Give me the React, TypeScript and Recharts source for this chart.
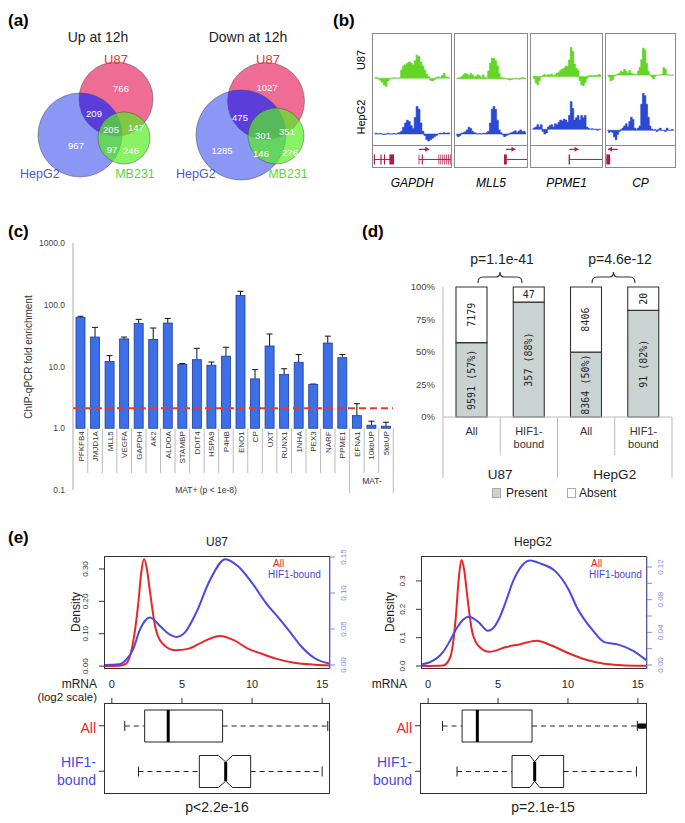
import React from 'react';
import {
  AreaChart,
  Area,
  BarChart,
  Bar,
  ComposedChart,
  LineChart,
  Line,
  ScatterChart,
  Scatter,
  XAxis,
  YAxis,
  LabelList,
  ReferenceArea,
  ReferenceLine,
} from 'recharts';

const FONT = '"Liberation Sans", Arial, sans-serif';
const MONO = '"DejaVu Sans Mono", monospace';
const RED = '#e8262a';
const BLUE = '#4848e4';
const BLUE_AXIS = '#8585f0';
const GENE_RED = '#b3174e';

// (a) Venn counts: U87 only, U87&HepG2, all three, U87&MB231, HepG2 only, HepG2&MB231, MB231 only
const upCounts = [766, 209, 205, 147, 967, 97, 246];
const downCounts = [1027, 475, 301, 351, 1285, 146, 276];

// (b) ChIP-seq tracks, 40 bins per locus
const trackGenes = ['GAPDH', 'MLL5', 'PPME1', 'CP'];
const u87Signal = [
  [0.2, 0.3, -0.3, -0.8, -1.5, -2.5, -3, -1, -0.3, 0, 0.2, 0, 0.1, 0.2, 3, 4.5, 5, 5.5, 6, 5.5, 5, 6.5, 8.5, 8, 6, 4.5, 3, 1.5, 0.5, -0.8, -1, -0.5, 0.3, 0.5, 0.2, 1, 1.8, 0.5, 0.3, 0.2],
  [0, 0.3, 0.5, 0.8, 1.5, 2, 1.8, 1.2, 2, 1.5, 0.8, 1, 1.5, 1.2, 0.5, 1.5, 0.5, 0.3, 3, 6, 8, 8, 7, 5, 2, 0.5, 0.3, 0.2, 0, -0.3, -0.5, -0.3, 0, 0.2, 0, -0.2, 0.3, 0.5, 0.2, 0.3],
  [0, -0.5, -1.5, -2, -1, 0, 0.3, 0.5, 0.2, 0.5, 0.3, 0.6, 0.2, 0.5, 0.8, 1, 1.5, 1.8, 2, 2.5, 2.5, 4, 7, 6, 3, 2, 1.5, -1, -2, -2.2, -1.5, -0.5, 0.2, 0.3, 0.2, 0.3, 0.2, 0.3, 0.5, 0.3],
  [0, -0.5, -1.5, -1.2, -0.3, 0, 0.3, 0.5, 1, 0.8, 1.5, 1, 0.5, 1.2, 0.5, 0.3, 0.2, 0, 1, 2, 4, 7, 6.5, 3, 1, 0, -0.5, -1, -0.3, 0, 0, 0, 0.2, 2, 1.5, 0.2, 0, 0, 0, 0],
];
const hepg2Signal = [
  [0, 0.3, 0, 0.2, 0, -0.2, 0, 0.3, 0, 0, 0.2, 0, 0.3, 0.5, 1, 2.5, 4, 5, 4.5, 3, 2, 6, 10, 9, 4, 1, -0.5, -2, -2.5, -2, -1.5, -1, -0.5, 0, 0.3, 0.2, 0.5, 0.2, 0.4, 0.3],
  [-0.5, -1, -0.5, 0.3, 0.5, 0.8, 1.5, 2.5, 2, 1, 0.5, 0.3, 0, 0.2, 0, 0.3, 0.2, 0.5, 1, 4, 9, 10, 9, 5, 1.5, 0.5, -0.3, -1, -0.5, -0.3, 0.3, 0.5, 0.8, 1.2, 0.5, 1, 1.5, 0.8, 1, 0.5],
  [0, 0.3, 0.5, 1, 0.5, 1, -0.5, -1, -0.8, 0.5, 0.8, 1, 0.5, 1.2, 1, 1.5, 2, 1.8, 2.2, 2, 1.5, 3, 6, 4.5, 2, 2.5, 3, 2, 3, 2.5, 3, 0.5, 0.2, 0, 0.1, 0, 0, -0.2, 0, 0],
  [0, -0.5, -0.3, -0.5, -1.5, -2.2, -1, -0.3, 0.2, 0.5, 1, 1.5, 0.8, 2, 3, 2.5, 0.5, 0.2, 0.5, 1, 6, 8.5, 8, 6, 3, 1, 0.3, 0, 0.2, -0.3, 0.2, 0.5, 0, 0, -0.3, 0.5, 0, 0, 0.2, 0],
];
const u87Ticks = [[0, 5, 10, 15], [0, 5, 10, 15], [0, 4, 8], [-2, 0, 2, 4, 6, 8]];
const hepg2Ticks = [[0, 5, 10, 15], [0, 5, 10, 15], [-2, 0, 2, 4, 6, 8], [-2, 0, 2, 4, 6, 8, 10]];
const u87Domain = [[-4, 16], [-4, 17], [-3, 10], [-3.6, 10.4]];
const hepg2Domain = [[-4, 16], [-4, 16], [-3.4, 8.5], [-3.4, 9.3]];
// gene models on a 0-100 window
const geneExons = [
  [[1, 2.5], [9.5, 11], [14, 15.5], [21, 27], [58.5, 59.5], [62.5, 64], [84, 85], [86.5, 87.5], [89, 90], [91.5, 92.5], [94, 95], [96.5, 97.5], [98.5, 99.5]],
  [[68, 72]],
  [[53, 55]],
  [[0.5, 6]],
];
const geneIntrons = [[[1, 27], [58.5, 99.5]], [[72, 100]], [[55, 100]], [[0.5, 6]]];
const geneArrows = [[59, 72, 1], [71, 84, 1], [54, 67, 1], [17, 3, -1]];

// (c) ChIP-qPCR
const enrichGenes = ['PFKFB4', 'JMJD1A', 'MLL5', 'VEGFA', 'GAPDH', 'AK2', 'ALDOA', 'STAMBP', 'DDIT4', 'HSPA9', 'P4HB', 'ENO1', 'CP', 'UXT', 'RUNX1', '1NHA', 'PEX3', 'NARF', 'PPME1', 'EFNA1', '10kbUP', '5kbUP'];
const enrichMean = [62, 30, 12.1, 28, 50, 27.5, 50.6, 10.8, 12.9, 10.5, 14.7, 141, 6.3, 21.5, 7.4, 11.7, 5.1, 24, 13.9, 1.6, 1.12, 1.08];
const enrichUpper = [65, 43, 15, 30, 58, 42, 60, 11.2, 19.7, 11.8, 20.5, 165, 8.9, 33.6, 9.2, 15.6, 5.2, 31, 15.6, 2.5, 1.3, 1.25];
const enrichThreshold = 2.1;

// (d) expression presence
const hifGroups = ['All', 'HIF1-bound', 'All', 'HIF1-bound'];
const hifCells = ['U87', 'U87', 'HepG2', 'HepG2'];
const presentCounts = [9591, 357, 8364, 91];
const absentCounts = [7179, 47, 8406, 20];

// (e) densities of mRNA level
const u87AllX = [-0.5, 0.5, 1, 1.5, 1.9, 2.1, 2.3, 2.5, 2.7, 3.1, 3.6, 4.5, 5.5, 6.5, 7.7, 8.7, 9.7, 10.7, 11.7, 13, 14.5, 15.5];
const u87AllY = [0, 0.001, 0.007, 0.07, 0.2, 0.29, 0.331, 0.3, 0.236, 0.12, 0.07, 0.049, 0.054, 0.075, 0.093, 0.08, 0.054, 0.038, 0.023, 0.01, 0.004, 0.002];
const u87HifX = [-0.5, 0.5, 1, 1.5, 2, 2.7, 3.5, 4, 4.6, 5.2, 6, 7, 8.1, 9, 10, 11, 12, 12.7, 13.5, 14.5, 15.5];
const u87HifY = [0, 0.001, 0.007, 0.021, 0.049, 0.066, 0.053, 0.044, 0.039, 0.045, 0.072, 0.118, 0.147, 0.137, 0.114, 0.086, 0.063, 0.046, 0.026, 0.009, 0.002];
const hepAllX = [-0.5, 1, 1.5, 1.9, 2.1, 2.3, 2.5, 2.7, 3.1, 3.6, 4.3, 5.5, 6.5, 7.7, 8.7, 10, 11.2, 12.5, 14, 15.5];
const hepAllY = [0, 0.002, 0.03, 0.17, 0.3, 0.374, 0.34, 0.256, 0.115, 0.067, 0.05, 0.067, 0.077, 0.089, 0.073, 0.044, 0.022, 0.008, 0.002, 0.001];
const hepHifX = [-0.5, 0, 1, 1.5, 2, 2.8, 3.5, 4.2, 4.5, 5, 5.5, 6, 6.5, 7.2, 8, 9, 9.5, 10, 10.5, 11.7, 12.5, 13.5, 14.5, 15.5];
const hepHifY = [0.001, 0.003, 0.016, 0.03, 0.046, 0.059, 0.053, 0.042, 0.044, 0.057, 0.079, 0.103, 0.119, 0.128, 0.124, 0.115, 0.105, 0.091, 0.072, 0.042, 0.028, 0.025, 0.018, 0.006];

// (e) boxplots
const boxRows = ['All', 'HIF1-bound'];
const u87BoxMin = [0.92, 1.9];
const u87BoxQ1 = [2.34, 6.24];
const u87BoxMed = [4.02, 8.12];
const u87BoxQ3 = [7.9, 9.9];
const u87BoxMax = [15.4, 15.0];
const u87NotchLo = [4.02, 7.6];
const u87NotchHi = [4.02, 8.6];
const hepBoxMin = [1.03, 2.07];
const hepBoxQ1 = [2.43, 6.0];
const hepBoxMed = [3.52, 7.62];
const hepBoxQ3 = [7.43, 9.69];
const hepBoxMax = [14.96, 14.9];
const hepNotchLo = [3.52, 7.28];
const hepNotchHi = [3.52, 7.98];
const hepAllOutliers = [15.1, 15.2, 15.3, 15.4, 15.5];

// ---------- (a) ----------
const vennCircles = [
  [{ x: 116, y: 99, r: 37 }, { x: 80, y: 135, r: 42 }, { x: 124, y: 138, r: 26 }],
  [{ x: 266, y: 101, r: 38.5 }, { x: 241, y: 135, r: 45 }, { x: 276, y: 136, r: 28 }],
];
const vennSpots = [
  [[121, 88], [94, 113], [111, 129], [136, 127], [76, 145], [112, 149], [131, 150]],
  [[267, 87], [240, 117], [263, 135], [287, 131], [222, 150], [261, 153], [290, 152]],
];
const circleFill = [
  { fill: '#ee5f8c', op: 0.92 },
  { fill: '#4a5cf0', op: 0.64 },
  { fill: '#55ee22', op: 0.7 },
];

const VennCircle = (p: any) => (
  <circle cx={p.cx} cy={p.cy} r={p.payload.r} fill={p.payload.fill} fillOpacity={p.payload.op} stroke="#3a3a3a" strokeOpacity={0.55} strokeWidth={0.8} />
);
// U87 ∩ HepG2 lens: HepG2 disc clipped by the U87 disc
const VennLens = (p: any) => {
  const d = p.payload;
  const id = `lens-${d.id}`;
  return (
    <g>
      <defs>
        <clipPath id={id}>
          <circle cx={p.cx + d.ox} cy={p.cy + d.oy} r={d.or} />
        </clipPath>
      </defs>
      <circle cx={p.cx} cy={p.cy} r={d.r} fill="#5237dc" fillOpacity={0.82} clipPath={`url(#${id})`} />
    </g>
  );
};
const VennNumber = (p: any) => (
  <text x={p.cx} y={p.cy + 3.5} textAnchor="middle" fontSize={9.5} fill="#fff">{p.payload.n}</text>
);

const Venn = () => {
  const base = vennCircles.flatMap((set) => set.slice(0, 2).map((c, k) => ({ ...c, ...circleFill[k] })));
  const lenses = vennCircles.map(([u, h], id) => ({ x: h.x, y: h.y, r: h.r, ox: u.x - h.x, oy: u.y - h.y, or: u.r, id }));
  const mb = vennCircles.map((set) => ({ ...set[2], ...circleFill[2] }));
  const numbers = [upCounts, downCounts].flatMap((counts, v) =>
    counts.map((n, k) => ({ x: vennSpots[v][k][0], y: vennSpots[v][k][1], n })),
  );
  return (
    <ScatterChart width={345} height={190} margin={{ top: 0, right: 0, bottom: 0, left: 0 }}>
      <XAxis type="number" dataKey="x" domain={[0, 345]} hide />
      <YAxis type="number" dataKey="y" domain={[0, 190]} reversed hide />
      <Scatter data={base} shape={VennCircle} isAnimationActive={false} />
      <Scatter data={lenses} shape={VennLens} isAnimationActive={false} />
      <Scatter data={mb} shape={VennCircle} isAnimationActive={false} />
      <Scatter data={numbers} shape={VennNumber} isAnimationActive={false} />
    </ScatterChart>
  );
};

// ---------- (b) ----------
const trackPanels = [
  { left: 372, width: 80 },
  { left: 454, width: 74 },
  { left: 530, width: 73 },
  { left: 605, width: 71 },
];

const Track = ({ values, domain, ticks, color, tickColor, width, height }: any) => (
  <AreaChart width={width} height={height} data={values.map((v: number, i: number) => ({ i, v }))} margin={{ top: 1, right: 1, bottom: 0, left: 1.5 }}>
    <XAxis dataKey="i" type="number" domain={[0, values.length - 1]} hide />
    <YAxis
      type="number"
      domain={domain}
      ticks={ticks}
      interval={0}
      allowDataOverflow
      mirror
      width={0}
      axisLine={{ stroke: color, strokeWidth: 3 }}
      tickLine={false}
      tick={{ fontSize: 4.5, fill: tickColor }}
    />
    <ReferenceLine y={0} stroke={color} strokeWidth={0.5} />
    <Area type="step" dataKey="v" stroke={color} strokeWidth={0.6} fill={color} fillOpacity={0.95} baseValue={0} dot={false} isAnimationActive={false} />
  </AreaChart>
);

const ArrowHead = (p: any) => {
  const d = p.payload.dir;
  return <path d={`M${p.cx},${p.cy} l${-4 * d},-2.5 l0,5 z`} fill={GENE_RED} />;
};

const GeneTrack = ({ gi, width, height }: any) => {
  const [a0, a1, dir] = geneArrows[gi];
  return (
    <ComposedChart width={width} height={height} margin={{ top: 0, right: 0, bottom: 0, left: 0 }}>
      <XAxis type="number" dataKey="x" domain={[0, 100]} hide />
      <YAxis type="number" dataKey="y" domain={[0, 10]} hide />
      {geneIntrons[gi].map(([s, e], k) => (
        <ReferenceLine key={`i${k}`} segment={[{ x: s, y: 3.6 }, { x: e, y: 3.6 }]} stroke={GENE_RED} strokeWidth={1} />
      ))}
      {geneExons[gi].map(([s, e], k) => (
        <ReferenceArea key={`e${k}`} x1={s} x2={e} y1={1.2} y2={6} fill={GENE_RED} fillOpacity={1} stroke="none" />
      ))}
      <ReferenceLine segment={[{ x: a0, y: 8.4 }, { x: a1, y: 8.4 }]} stroke={GENE_RED} strokeWidth={1.2} />
      <Scatter data={[{ x: a1, y: 8.4, dir }]} shape={ArrowHead} isAnimationActive={false} />
    </ComposedChart>
  );
};

const TrackPanel = ({ gi }: any) => {
  const { left, width } = trackPanels[gi];
  const w = width - 2;
  return (
    <div style={{ position: 'absolute', left, top: 33, width, height: 135, border: '1px solid #8a8a8a', boxSizing: 'border-box' }}>
      <Track values={u87Signal[gi]} domain={u87Domain[gi]} ticks={u87Ticks[gi]} color="#5bd41c" tickColor="#8fd46a" width={w} height={55} />
      <Track values={hepg2Signal[gi]} domain={hepg2Domain[gi]} ticks={hepg2Ticks[gi]} color="#1f3fd3" tickColor="#7d93e0" width={w} height={56} />
      <div style={{ borderTop: '1px solid #8a8a8a' }}>
        <GeneTrack gi={gi} width={w} height={21} />
      </div>
    </div>
  );
};

// ---------- (c) ----------
const C_PLOT_W = 320;
const C_BAND = C_PLOT_W / enrichGenes.length;

const EnrichBar = (p: any) => {
  const { x, width, payload } = p;
  const top = Math.min(p.y, p.y + p.height);
  const h = Math.abs(p.height);
  const perDecade = h / Math.log10(payload.mean);
  const errY = top - Math.log10(payload.upper / payload.mean) * perDecade;
  const cx = x + width / 2;
  return (
    <g>
      <line x1={cx} x2={cx} y1={top} y2={errY} stroke="#111" strokeWidth={1} />
      <line x1={cx - 3} x2={cx + 3} y1={errY} y2={errY} stroke="#111" strokeWidth={1} />
      <rect x={x} y={top} width={width} height={h} fill="#3d6fe8" stroke="#1e3c96" strokeWidth={0.8} />
    </g>
  );
};

const GeneLabel = (p: any) => {
  const vb = p.viewBox ?? p;
  const { x, y, width, height } = vb;
  const { value, index } = p;
  const cx = x + width / 2;
  const base = Math.max(y, y + height);
  const left = cx - C_BAND / 2;
  const tx = cx + 3;
  const ty = base + 3;
  return (
    <g>
      <text x={tx} y={ty} transform={`rotate(-90 ${tx} ${ty})`} textAnchor="end" fontSize={8} fill="#333">{value}</text>
      {index > 0 && <line x1={left} x2={left} y1={base} y2={base + (index === 19 ? 65 : 45)} stroke="#bbb" />}
      {index === enrichGenes.length - 1 && <line x1={left + C_BAND} x2={left + C_BAND} y1={base} y2={base + 65} stroke="#bbb" />}
    </g>
  );
};

const EnrichmentChart = () => {
  const data = enrichGenes.map((gene, i) => ({ gene, mean: enrichMean[i], upper: enrichUpper[i] }));
  return (
    <ComposedChart width={400} height={270} data={data} margin={{ top: 13, right: 7, bottom: 10, left: 0 }}>
      <XAxis dataKey="gene" type="category" hide />
      <YAxis
        scale="log"
        domain={[0.1, 1000]}
        ticks={[0.1, 1, 10, 100, 1000]}
        interval={0}
        allowDataOverflow
        tickFormatter={(v: number) => v.toFixed(1)}
        width={73}
        axisLine={{ stroke: '#aaa' }}
        tickLine={false}
        tick={{ fontSize: 8.5, fill: '#444' }}
      />
      <Bar dataKey={(d: any) => [1, d.mean]} barSize={9} shape={<EnrichBar />} isAnimationActive={false}>
        <LabelList dataKey="gene" content={<GeneLabel />} />
      </Bar>
      <ReferenceLine y={enrichThreshold} stroke="#e53a2f" strokeWidth={2} strokeDasharray="7 4" />
    </ComposedChart>
  );
};

// ---------- (d) ----------
const D_BAND = 229 / hifGroups.length;
const ABSENT_FLAT = [1];

const HifTick = (p: any) => {
  const { x, y, payload, index } = p;
  const half = D_BAND / 2;
  const group = hifGroups[index] ?? payload.value;
  const lines = group === 'All' ? ['All'] : ['HIF1-', 'bound'];
  return (
    <g>
      {lines.map((t, k) => (
        <text key={k} x={x} y={y + 18 + k * 13} textAnchor="middle" fontSize={11} fill="#333">{t}</text>
      ))}
      <line x1={x - half} x2={x - half} y1={y} y2={y + (index % 2 === 0 ? 61 : 38)} stroke="#bbb" />
      {index === hifGroups.length - 1 && <line x1={x + half} x2={x + half} y1={y} y2={y + 61} stroke="#bbb" />}
      {index % 2 === 1 && (
        <text x={x - half} y={y + 62} textAnchor="middle" fontSize={13.5} fill="#222">{hifCells[index]}</text>
      )}
    </g>
  );
};

const PresentLabel = (p: any) => {
  const vb = p.viewBox ?? p;
  const cx = vb.x + vb.width / 2;
  const cy = vb.y + vb.height / 2;
  const i = p.index;
  const pct = Math.round((presentCounts[i] / (presentCounts[i] + absentCounts[i])) * 100);
  return (
    <text x={cx} y={cy} transform={`rotate(-90 ${cx} ${cy})`} textAnchor="middle" dominantBaseline="central" fontSize={10} fontFamily={MONO} fill="#222">
      {`${presentCounts[i]} (${pct}%)`}
    </text>
  );
};

const AbsentLabel = (p: any) => {
  const vb = p.viewBox ?? p;
  const cx = vb.x + vb.width / 2;
  const cy = vb.y + vb.height / 2;
  const i = p.index;
  const flat = ABSENT_FLAT.includes(i);
  return (
    <text x={cx} y={cy} transform={flat ? undefined : `rotate(-90 ${cx} ${cy})`} textAnchor="middle" dominantBaseline="central" fontSize={10} fontFamily={MONO} fill="#222">
      {absentCounts[i]}
    </text>
  );
};

const PresenceChart = () => {
  const data = hifGroups.map((g, i) => ({ id: `${hifCells[i]}-${g}`, present: presentCounts[i], absent: absentCounts[i] }));
  return (
    <BarChart width={310} height={230} data={data} stackOffset="expand" margin={{ top: 17, right: 8, bottom: 0, left: 0 }}>
      <XAxis dataKey="id" height={83} tickLine={false} tickSize={0} tickMargin={0} axisLine={{ stroke: '#bbb' }} tick={<HifTick />} interval={0} />
      <YAxis
        yAxisId="l"
        domain={[0, 1]}
        ticks={[0, 0.25, 0.5, 0.75, 1]}
        interval={0}
        tickFormatter={(v: number) => `${Math.round(v * 100)}%`}
        width={73}
        axisLine={{ stroke: '#bbb' }}
        tickLine={false}
        tick={{ fontSize: 9.5, fill: '#444' }}
      />
      <YAxis yAxisId="r" orientation="right" width={0} tick={false} tickLine={false} axisLine={{ stroke: '#bbb' }} />
      <Bar yAxisId="l" dataKey="present" stackId="s" barSize={31} fill="#c9d3d1" stroke="#333" strokeWidth={1.1} isAnimationActive={false}>
        <LabelList dataKey="present" content={<PresentLabel />} />
      </Bar>
      <Bar yAxisId="l" dataKey="absent" stackId="s" barSize={31} fill="#ffffff" stroke="#333" strokeWidth={1.1} isAnimationActive={false}>
        <LabelList dataKey="absent" content={<AbsentLabel />} />
      </Bar>
    </BarChart>
  );
};

// ---------- (e) ----------
const RotTick = (p: any) => {
  const { x, y, payload, side, fmt, color, index, every } = p;
  if (every && index % every !== 0) return null;
  const tx = side === 'l' ? x - 8 : x + 8;
  return (
    <text x={tx} y={y} transform={`rotate(-90 ${tx} ${y})`} textAnchor="middle" fontSize={8} fill={color}>
      {fmt(payload.value)}
    </text>
  );
};

const zip = (xs: number[], ys: number[]) => xs.map((x, i) => ({ x, y: ys[i] }));

const DensityPanel = ({ allPts, hifPts, xDomain, leftDomain, leftTicks, leftFmt, rightDomain, rightTicks, rightEvery }: any) => (
  <LineChart width={350} height={130} margin={{ top: 11, right: 0, bottom: 6, left: 0 }}>
    <XAxis type="number" dataKey="x" domain={xDomain} allowDataOverflow hide />
    <YAxis
      yAxisId="l"
      type="number"
      domain={leftDomain}
      ticks={leftTicks}
      interval={0}
      allowDataOverflow
      width={104}
      axisLine={false}
      tickSize={5}
      tickMargin={3}
      tickLine={{ stroke: '#333' }}
      tick={<RotTick side="l" fmt={leftFmt} color="#333" />}
    />
    <YAxis
      yAxisId="r"
      orientation="right"
      type="number"
      domain={rightDomain}
      ticks={rightTicks}
      interval={0}
      allowDataOverflow
      width={20}
      axisLine={{ stroke: BLUE_AXIS }}
      tickSize={5}
      tickMargin={3}
      tickLine={{ stroke: BLUE_AXIS }}
      tick={<RotTick side="r" fmt={(v: number) => v.toFixed(2)} color={BLUE_AXIS} every={rightEvery} />}
    />
    <Line yAxisId="l" data={allPts} dataKey="y" type="monotone" stroke={RED} strokeWidth={2} dot={false} isAnimationActive={false} />
    <Line yAxisId="r" data={hifPts} dataKey="y" type="monotone" stroke={BLUE} strokeWidth={2} dot={false} isAnimationActive={false} />
  </LineChart>
);

const BoxShape = (p: any) => {
  const { x, y, width, height, payload: d } = p;
  const k = width / (d.max - d.min);
  const px = (v: number) => x + (v - d.min) * k;
  const top = y;
  const bot = y + height;
  const cy = y + height / 2;
  const inset = d.nhi - d.nlo > 0.05 ? height * 0.2 : 0;
  const box = inset
    ? `M${px(d.q1)},${top} L${px(d.nlo)},${top} L${px(d.med)},${top + inset} L${px(d.nhi)},${top} L${px(d.q3)},${top} L${px(d.q3)},${bot} L${px(d.nhi)},${bot} L${px(d.med)},${bot - inset} L${px(d.nlo)},${bot} L${px(d.q1)},${bot} Z`
    : `M${px(d.q1)},${top} H${px(d.q3)} V${bot} H${px(d.q1)} Z`;
  return (
    <g>
      <line x1={px(d.min)} x2={px(d.q1)} y1={cy} y2={cy} stroke="#222" strokeDasharray="5 4" />
      <line x1={px(d.q3)} x2={px(d.max)} y1={cy} y2={cy} stroke="#222" strokeDasharray="5 4" />
      <line x1={px(d.min)} x2={px(d.min)} y1={cy - 5} y2={cy + 5} stroke="#222" />
      <line x1={px(d.max)} x2={px(d.max)} y1={cy - 5} y2={cy + 5} stroke="#222" />
      <path d={box} fill="#fff" stroke="#222" strokeWidth={1} />
      <line x1={px(d.med)} x2={px(d.med)} y1={top + inset} y2={bot - inset} stroke="#000" strokeWidth={3} />
      {d.out.map((v: number, i: number) => (
        <circle key={i} cx={px(v)} cy={cy} r={2.6} fill="#111" />
      ))}
    </g>
  );
};

const RowTick = (p: any) => {
  const { x, y, payload } = p;
  if (payload.value === 'All') {
    return <text x={x} y={y + 7} textAnchor="end" fontSize={14} fill={RED}>All</text>;
  }
  return (
    <text textAnchor="end" fontSize={14} fill={BLUE}>
      <tspan x={x} y={y - 4}>HIF1-</tspan>
      <tspan x={x} y={y + 14}>bound</tspan>
    </text>
  );
};

const BoxPanel = ({ rows, xDomain }: any) => (
  <ComposedChart layout="vertical" width={350} height={125} data={rows} margin={{ top: 0, right: 20, bottom: 6, left: 0 }}>
    <XAxis
      type="number"
      orientation="top"
      domain={xDomain}
      ticks={[0, 5, 10, 15]}
      interval={0}
      allowDataOverflow
      height={28}
      axisLine={false}
      tickSize={5}
      tickMargin={10}
      tickLine={{ stroke: '#333' }}
      tick={{ fontSize: 11, fill: '#222' }}
    />
    <YAxis type="category" dataKey="row" width={104} axisLine={false} tickSize={5} tickMargin={3} tickLine={{ stroke: '#333' }} tick={<RowTick />} />
    <Bar dataKey={(d: any) => [d.min, d.max]} barSize={32} shape={<BoxShape />} isAnimationActive={false} />
  </ComposedChart>
);

const boxData = (mins: number[], q1: number[], med: number[], q3: number[], maxs: number[], nlo: number[], nhi: number[], outs: number[][]) =>
  boxRows.map((row, i) => ({ row, min: mins[i], q1: q1[i], med: med[i], q3: q3[i], max: maxs[i], nlo: nlo[i], nhi: nhi[i], out: outs[i] }));

const Frame = ({ l, t, r, b }: any) => (
  <div style={{ position: 'absolute', left: l, top: t, width: r - l, height: b - t, border: '1px solid #333', boxSizing: 'border-box' }} />
);

const brace = (x1: number, x2: number, y: number) => {
  const m = (x1 + x2) / 2;
  return `M${x1},${y + 6} Q${x1},${y} ${x1 + 5},${y} L${m - 4},${y} Q${m},${y} ${m},${y - 5} Q${m},${y} ${m + 4},${y} L${x2 - 5},${y} Q${x2},${y} ${x2},${y + 6}`;
};

const Overlay = () => (
  <svg width={685} height={823} style={{ position: 'absolute', left: 0, top: 0, pointerEvents: 'none' }} fontFamily={FONT}>
    {/* (a) */}
    <text x={8} y={26} fontSize={17} fontWeight="bold">(a)</text>
    <text x={98} y={42} fontSize={14} textAnchor="middle" fill="#222">Up at 12h</text>
    <text x={248} y={42} fontSize={14} textAnchor="middle" fill="#222">Down at 12h</text>
    <text x={116} y={64} fontSize={13} textAnchor="middle" fill="#ee2f3f">U87</text>
    <text x={268} y={64} fontSize={13} textAnchor="middle" fill="#ee2f3f">U87</text>
    <text x={20} y={178} fontSize={12.5} fill="#4a55e8">HepG2</text>
    <text x={176} y={178} fontSize={12.5} fill="#4a55e8">HepG2</text>
    <text x={135} y={178} fontSize={12.5} textAnchor="middle" fill="#5ad81f">MB231</text>
    <text x={288} y={178} fontSize={12.5} textAnchor="middle" fill="#5ad81f">MB231</text>
    {/* (b) */}
    <text x={333} y={26} fontSize={17} fontWeight="bold">(b)</text>
    <text x={365} y={60} fontSize={11} textAnchor="middle" transform="rotate(-90 365 60)">U87</text>
    <text x={365} y={117} fontSize={11} textAnchor="middle" transform="rotate(-90 365 117)">HepG2</text>
    {trackGenes.map((g, i) => (
      <text key={g} x={trackPanels[i].left + trackPanels[i].width / 2} y={187} fontSize={12} fontStyle="italic" textAnchor="middle">{g}</text>
    ))}
    {/* (c) */}
    <text x={8} y={237} fontSize={17} fontWeight="bold">(c)</text>
    <text x={32} y={357} fontSize={10} textAnchor="middle" fill="#333" transform="rotate(-90 32 357)">ChIP-qPCR fold enrichment</text>
    <text x={206} y={493} fontSize={8.5} textAnchor="middle" fill="#333">MAT+ (p &lt; 1e-8)</text>
    <text x={372} y={484} fontSize={8.5} textAnchor="middle" fill="#333">MAT-</text>
    {/* (d) */}
    <text x={362} y={237} fontSize={17} fontWeight="bold">(d)</text>
    <text x={502} y={264} fontSize={14} textAnchor="middle" fill="#222">p=1.1e-41</text>
    <text x={620} y={264} fontSize={14} textAnchor="middle" fill="#222">p=4.6e-12</text>
    <path d={brace(478, 522, 277)} fill="none" stroke="#333" strokeWidth={1.2} />
    <path d={brace(592, 635, 277)} fill="none" stroke="#333" strokeWidth={1.2} />
    <rect x={492.5} y={488.5} width={8} height={9} fill="#c9d3d1" stroke="#aaa" />
    <text x={506} y={497} fontSize={12} fill="#222">Present</text>
    <rect x={567.5} y={488.5} width={8} height={9} fill="#fff" stroke="#aaa" />
    <text x={579} y={497} fontSize={12} fill="#222">Absent</text>
    {/* (e) */}
    <text x={8} y={543} fontSize={17} fontWeight="bold">(e)</text>
    <text x={217} y={546} fontSize={12} textAnchor="middle" fill="#222">U87</text>
    <text x={533} y={546} fontSize={12} textAnchor="middle" fill="#222">HepG2</text>
    <text x={80} y={612} fontSize={12} textAnchor="middle" fill="#222" transform="rotate(-90 80 612)">Density</text>
    <text x={394} y={612} fontSize={12} textAnchor="middle" fill="#222" transform="rotate(-90 394 612)">Density</text>
    <text x={273} y={567} fontSize={10} fill={RED}>All</text>
    <text x={268} y={578} fontSize={10} fill={BLUE}>HIF1-bound</text>
    <text x={591} y={567} fontSize={10} fill={RED}>All</text>
    <text x={589} y={578} fontSize={10} fill={BLUE}>HIF1-bound</text>
    <text x={97} y={688} fontSize={12} textAnchor="end" fill="#222">mRNA</text>
    <text x={97} y={701} fontSize={11.5} textAnchor="end" fill="#222">(log2 scale)</text>
    <text x={407} y={688} fontSize={12} textAnchor="end" fill="#222">mRNA</text>
    <text x={217} y={812} fontSize={14} textAnchor="middle" fill="#222">p&lt;2.2e-16</text>
    <text x={543} y={812} fontSize={14} textAnchor="middle" fill="#222">p=2.1e-15</text>
  </svg>
);

export default function App() {
  const u87Rows = boxData(u87BoxMin, u87BoxQ1, u87BoxMed, u87BoxQ3, u87BoxMax, u87NotchLo, u87NotchHi, [[], []]);
  const hepRows = boxData(hepBoxMin, hepBoxQ1, hepBoxMed, hepBoxQ3, hepBoxMax, hepNotchLo, hepNotchHi, [hepAllOutliers, []]);
  const abs = (left: number, top: number): React.CSSProperties => ({ position: 'absolute', left, top });
  return (
    <div style={{ position: 'absolute', left: 0, top: 0, width: 685, height: 823, background: '#fff', fontFamily: FONT, overflow: 'hidden' }}>
      <div style={abs(0, 0)}>
        <Venn />
      </div>
      {trackGenes.map((g, i) => (
        <TrackPanel key={g} gi={i} />
      ))}
      <div style={abs(0, 230)}>
        <EnrichmentChart />
      </div>
      <div style={abs(370, 270)}>
        <PresenceChart />
      </div>
      <Frame l={104} t={556} r={330} b={669} />
      <Frame l={421} t={556} r={647} b={669} />
      <Frame l={104} t={703} r={330} b={794} />
      <Frame l={420} t={703} r={647} b={794} />
      <div style={abs(0, 545)}>
        <DensityPanel
          allPts={zip(u87AllX, u87AllY)}
          hifPts={zip(u87HifX, u87HifY)}
          xDomain={[-0.56, 15.56]}
          leftDomain={[-0.009, 0.34]}
          leftTicks={[0, 0.1, 0.2, 0.3]}
          leftFmt={(v: number) => v.toFixed(2)}
          rightDomain={[-0.0056, 0.1514]}
          rightTicks={[0, 0.05, 0.1, 0.15]}
        />
      </div>
      <div style={abs(317, 545)}>
        <DensityPanel
          allPts={zip(hepAllX, hepAllY)}
          hifPts={zip(hepHifX, hepHifY)}
          xDomain={[-0.58, 15.55]}
          leftDomain={[-0.0106, 0.388]}
          leftTicks={[0, 0.1, 0.2, 0.3]}
          leftFmt={(v: number) => v.toFixed(1)}
          rightDomain={[-0.0049, 0.1335]}
          rightTicks={[0, 0.02, 0.04, 0.06, 0.08, 0.1, 0.12]}
          rightEvery={2}
        />
      </div>
      <div style={abs(0, 675)}>
        <BoxPanel rows={u87Rows} xDomain={[-0.56, 15.56]} />
      </div>
      <div style={abs(316, 675)}>
        <BoxPanel rows={hepRows} xDomain={[-0.58, 15.58]} />
      </div>
      <Overlay />
    </div>
  );
}
